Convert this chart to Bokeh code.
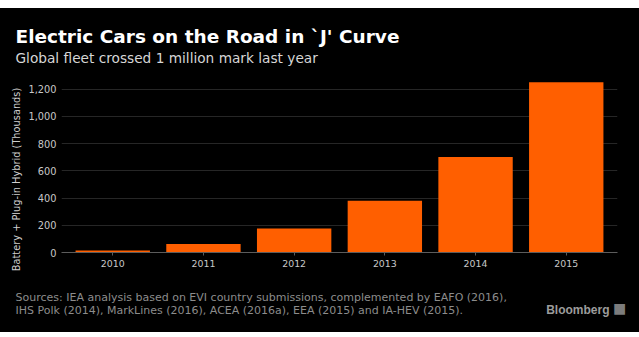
import math
from bokeh.plotting import figure
from bokeh.layouts import column, row
from bokeh.models import FactorRange, Range1d, Label, FixedTicker, NumeralTickFormatter
from bokeh.embed import file_html
from bokeh.resources import INLINE

# ---- data ----
years = ["2010", "2011", "2012", "2013", "2014", "2015"]
fleet = [14, 63, 176, 380, 701, 1251]  # thousands of vehicles
y_ticks = [0, 200, 400, 600, 800, 1000, 1200]

title_text = "Electric Cars on the Road in `J' Curve"
subtitle_text = "Global fleet crossed 1 million mark last year"
ylabel_text = "Battery + Plug-in Hybrid (Thousands)"
source_lines = [
    "Sources: IEA analysis based on EVI country submissions, complemented by EAFO (2016),",
    "IHS Polk (2014), MarkLines (2016), ACEA (2016a), EEA (2015) and IA-HEV (2015).",
]
brand = "Bloomberg"

BG = "#000000"
BAR = "#ff5f00"
FONT = "DejaVu Sans"
BGSTYLE = {"background-color": BG}


def text_panel(width, height, top, bottom):
    f = figure(width=width, height=height, title=None,
               x_range=Range1d(0, width), y_range=Range1d(bottom, top),
               x_axis_type=None, y_axis_type=None,
               output_backend="svg", toolbar_location=None,
               min_border=0, background_fill_color=BG, border_fill_color=BG,
               styles=BGSTYLE, frame_align=False)
    f.outline_line_color = None
    f.xgrid.visible = False
    f.ygrid.visible = False
    return f


# ---- header (page y 8..70) ----
head = text_panel(639, 62, 8, 70)
head.add_layout(Label(x=15, y=36, text=title_text, text_color="#ffffff",
                      text_font=FONT, text_font_style="bold", text_font_size="18.5px",
                      text_baseline="middle"))
head.add_layout(Label(x=15, y=57, text=subtitle_text, text_color="#d6d6d6",
                      text_font=FONT, text_font_size="13.7px", text_baseline="middle"))

# ---- y label strip (page y 70..280) ----
side = text_panel(25, 210, 70, 280)
side.add_layout(Label(x=15.5, y=179, text=ylabel_text, angle=math.pi / 2,
                      text_color="#cfcfcf", text_font=FONT, text_font_size="9.8px",
                      text_align="center", text_baseline="middle"))

# ---- main chart ----
p = figure(
    width=614, height=210, title=None,
    x_range=FactorRange(*years, range_padding=0.0217),
    y_range=Range1d(0, 1300),
    output_backend="svg", toolbar_location=None,
    min_border_left=36, min_border_right=22, min_border_top=5, min_border_bottom=28,
    background_fill_color=BG, border_fill_color=BG, styles=BGSTYLE,
    frame_align=False,
)
p.outline_line_color = None
p.vbar(x=years, top=fleet, width=0.82, color=BAR, line_color=None)

p.yaxis.ticker = FixedTicker(ticks=y_ticks)
p.yaxis.formatter = NumeralTickFormatter(format="0,0")
p.yaxis.axis_line_color = None
p.yaxis.major_tick_line_color = None
p.yaxis.major_tick_out = 0
p.yaxis.minor_tick_line_color = None
p.yaxis.major_label_standoff = 5
p.yaxis.major_label_text_color = "#c8c8c8"
p.yaxis.major_label_text_font = FONT
p.yaxis.major_label_text_font_size = "9.8px"

p.xaxis.axis_line_color = "#5c5c5c"
p.xaxis.major_tick_line_color = "#5c5c5c"
p.xaxis.major_tick_in = 0
p.xaxis.major_tick_out = 3
p.xaxis.major_label_standoff = 4
p.xaxis.major_label_text_color = "#c8c8c8"
p.xaxis.major_label_text_font = FONT
p.xaxis.major_label_text_font_size = "9.4px"

p.xgrid.grid_line_color = None
p.ygrid.grid_line_color = "#262626"
p.ygrid.ticker = FixedTicker(ticks=y_ticks)

# ---- footer (page y 280..332) ----
foot = text_panel(639, 52, 280, 332)
for i, line in enumerate(source_lines):
    foot.add_layout(Label(x=15, y=297 + 13 * i, text=line, text_color="#8c8c8c",
                          text_font=FONT, text_font_size="11px", text_baseline="middle"))
foot.add_layout(Label(x=609, y=309, text=brand, text_color="#9c9c9c",
                      text_font="Liberation Sans", text_font_style="bold",
                      text_font_size="12px", text_align="right", text_baseline="middle"))
foot.add_layout(Label(x=619, y=307.5, text="\u25a0", text_color="#7c7c7c",
                      text_font=FONT, text_font_size="14px", text_align="center",
                      text_baseline="middle"))

layout = column(head, row(side, p, spacing=0), foot, spacing=0,
                margin=(8, 0, 0, 0), styles=BGSTYLE)

open("out.html", "w").write(file_html(layout, INLINE))
